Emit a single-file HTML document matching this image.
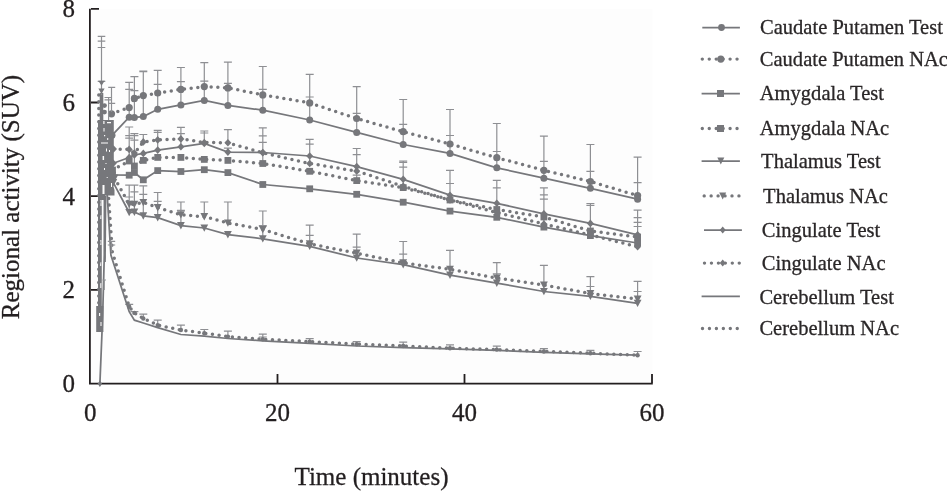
<!DOCTYPE html>
<html><head><meta charset="utf-8">
<style>
html,body{margin:0;padding:0;background:#fff;}
body{width:947px;height:492px;overflow:hidden;position:relative;}
svg{position:absolute;left:0;top:0;}
text{font-family:"Liberation Serif",serif;fill:#231f20;stroke:#231f20;stroke-width:0.3px;}
.lg{font-size:22px;fill:#2b2829;}
.sl{stroke:#76777b;stroke-width:1.75;fill:none;}
.dl{stroke:#76777b;stroke-width:3.5;stroke-dasharray:0 6.7;stroke-linecap:round;fill:none;}
.dlg{stroke:#76777b;stroke-width:3.4;stroke-dasharray:0 6.95;stroke-linecap:round;fill:none;}
.mk{fill:#76777b;stroke:none;}
</style></head>
<body>
<svg style="will-change:transform" width="947" height="492" viewBox="0 0 947 492">
<rect x="90" y="9" width="562.5" height="374.5" fill="#fdfdfd"/>
<!-- axes -->
<g stroke="#231f20" fill="none">
<path d="M89.9 8.8 V383.6 H652.8" stroke-width="1.8"/>
<path d="M91 8.8 H99 M91 102.5 H99 M91 196.2 H99 M91 289.9 H99" stroke-width="1.8"/>
<path d="M277.5 383 V374 M464.5 383 V374 M652 383 V374" stroke-width="1.8"/>
</g>
<g font-size="25" text-anchor="end">
<text x="75" y="17.2">8</text>
<text x="75" y="110.9">6</text>
<text x="75" y="204.6">4</text>
<text x="75" y="298.3">2</text>
<text x="75" y="392">0</text>
</g>
<g font-size="25" text-anchor="middle">
<text x="90.2" y="420.5">0</text>
<text x="277.5" y="420.5">20</text>
<text x="464.5" y="420.5">40</text>
<text x="652" y="420.5">60</text>
<text x="371.5" y="485">Time (minutes)</text>
<text transform="translate(18.8,197) rotate(-90)">Regional activity (SUV)</text>
</g>
<!-- SERIES -->
<path d="M129.2 107.6V82.3M125.2 82.3H133.2 M129.2 117.2V89.3M125.2 89.3H133.2 M129.2 149.4V127.0M125.2 127.0H133.2 M129.2 157.5V135.6M125.2 135.6H133.2 M129.2 161.0V138.2M125.2 138.2H133.2 M129.2 204.3V185.1M125.2 185.1H133.2 M129.2 212.5V197.0M125.2 197.0H133.2 M129.2 306.8V304.4M125.2 304.4H133.2 M134.4 98.4V76.6M130.4 76.6H138.4 M134.4 117.4V90.6M130.4 90.6H138.4 M134.4 153.1V133.6M130.4 133.6H138.4 M134.4 155.0V135.6M130.4 135.6H138.4 M134.4 166.0V140.2M130.4 140.2H138.4 M134.4 204.3V185.1M130.4 185.1H138.4 M134.4 212.2V191.9M130.4 191.9H138.4 M134.4 312.9V311.7M130.4 311.7H138.4 M143.3 95.6V71.1M139.3 71.1H147.3 M143.3 116.6V71.6M139.3 71.6H147.3 M143.3 141.9V134.5M139.3 134.5H147.3 M143.3 202.5V185.8M139.3 185.8H147.3 M143.3 215.9V194.4M139.3 194.4H147.3 M143.3 318.5V314.1M139.3 314.1H147.3 M157.7 93.0V70.3M153.7 70.3H161.7 M157.7 109.3V84.4M153.7 84.4H161.7 M157.7 139.9V130.3M153.7 130.3H161.7 M157.7 150.1V132.3M153.7 132.3H161.7 M157.7 207.6V192.5M153.7 192.5H161.7 M157.7 217.6V201.4M153.7 201.4H161.7 M157.7 325.1V320.2M153.7 320.2H161.7 M180.9 89.4V67.5M176.9 67.5H184.9 M180.9 104.9V81.7M176.9 81.7H184.9 M180.9 138.9V127.4M176.9 127.4H184.9 M180.9 146.8V133.6M176.9 133.6H184.9 M180.9 214.8V202.0M176.9 202.0H184.9 M180.9 225.6V210.3M176.9 210.3H184.9 M180.9 330.0V325.1M176.9 325.1H184.9 M204.3 86.6V62.7M200.3 62.7H208.3 M204.3 100.5V81.2M200.3 81.2H208.3 M204.3 142.5V131.0M200.3 131.0H208.3 M204.3 143.5V133.0M200.3 133.0H208.3 M204.3 216.7V202.0M200.3 202.0H208.3 M204.3 333.2V329.5M200.3 329.5H208.3 M227.9 87.9V62.2M223.9 62.2H231.9 M227.9 105.4V83.4M223.9 83.4H231.9 M227.9 142.8V129.6M223.9 129.6H231.9 M227.9 152.1V148.1M223.9 148.1H231.9 M227.9 223.0V202.0M223.9 202.0H231.9 M227.9 336.6V331.2M223.9 331.2H231.9 M262.8 94.9V66.5M258.8 66.5H266.8 M262.8 110.2V89.3M258.8 89.3H266.8 M262.8 152.5V127.8M258.8 127.8H266.8 M262.8 152.8V135.9M258.8 135.9H266.8 M262.8 163.5V142.4M258.8 142.4H266.8 M262.8 229.5V211.0M258.8 211.0H266.8 M262.8 238.8V225.6M258.8 225.6H266.8 M262.8 339.3V334.2M258.8 334.2H266.8 M262.8 340.8V337.0M258.8 337.0H266.8 M309.7 102.9V74.4M305.7 74.4H313.7 M309.7 120.0V97.0M305.7 97.0H313.7 M309.7 156.0V139.3M305.7 139.3H313.7 M309.7 163.5V144.2M305.7 144.2H313.7 M309.7 243.9V225.1M305.7 225.1H313.7 M309.7 246.3V235.4M305.7 235.4H313.7 M309.7 341.6V338.6M305.7 338.6H313.7 M356.7 118.5V86.6M352.7 86.6H360.7 M356.7 132.4V113.4M352.7 113.4H360.7 M356.7 166.6V148.5M352.7 148.5H360.7 M356.7 171.1V154.7M352.7 154.7H360.7 M356.7 180.6V175.2M352.7 175.2H360.7 M356.7 253.2V234.1M352.7 234.1H360.7 M356.7 258.0V247.1M352.7 247.1H360.7 M356.7 344.2V341.6M352.7 341.6H360.7 M403.2 131.7V99.5M399.2 99.5H407.2 M403.2 144.5V124.4M399.2 124.4H407.2 M403.2 179.3V161.2M399.2 161.2H407.2 M403.2 186.3V162.5M399.2 162.5H407.2 M403.2 187.6V167.2M399.2 167.2H407.2 M403.2 262.9V241.5M399.2 241.5H407.2 M403.2 264.6V254.1M399.2 254.1H407.2 M403.2 346.0V342.2M399.2 342.2H407.2 M403.2 347.6V345.4M399.2 345.4H407.2 M450.0 144.0V109.5M446.0 109.5H454.0 M450.0 153.4V135.5M446.0 135.5H454.0 M450.0 195.2V170.4M446.0 170.4H454.0 M450.0 200.0V183.5M446.0 183.5H454.0 M450.0 269.3V250.4M446.0 250.4H454.0 M450.0 348.2V344.8M446.0 344.8H454.0 M496.8 157.7V123.5M492.8 123.5H500.8 M496.8 167.8V151.5M492.8 151.5H500.8 M496.8 203.3V180.3M492.8 180.3H500.8 M496.8 209.5V187.9M492.8 187.9H500.8 M496.8 278.0V262.6M492.8 262.6H500.8 M496.8 283.1V273.8M492.8 273.8H500.8 M496.8 349.6V346.2M492.8 346.2H500.8 M543.9 170.3V136.1M539.9 136.1H547.9 M543.9 178.2V161.3M539.9 161.3H547.9 M543.9 213.8V187.9M539.9 187.9H547.9 M543.9 217.0V194.9M539.9 194.9H547.9 M543.9 224.0V199.1M539.9 199.1H547.9 M543.9 285.1V265.4M539.9 265.4H547.9 M543.9 351.5V348.7M539.9 348.7H547.9 M590.4 181.5V144.5M586.4 144.5H594.4 M590.4 188.3V171.4M586.4 171.4H594.4 M590.4 223.4V203.5M586.4 203.5H594.4 M590.4 231.0V205.4M586.4 205.4H594.4 M590.4 293.5V276.6M586.4 276.6H594.4 M590.4 296.3V286.5M586.4 286.5H594.4 M590.4 353.2V350.4M586.4 350.4H594.4 M637.6 195.6V157.1M633.6 157.1H641.6 M637.6 199.2V182.7M633.6 182.7H641.6 M637.6 234.8V210.2M633.6 210.2H641.6 M637.6 237.0V217.6M633.6 217.6H641.6 M637.6 243.0V222.4M633.6 222.4H641.6 M637.6 246.8V226.5M633.6 226.5H641.6 M637.6 299.1V281.4M633.6 281.4H641.6 M637.6 303.3V291.5M633.6 291.5H641.6 M637.6 355.2V351.5M633.6 351.5H641.6" stroke="#8e8f93" stroke-width="1.2" fill="none"/>
<path d="M112.0 135.3 L129.2 117.2 L134.4 117.4 L143.3 116.6 L157.7 109.3 L180.9 104.9 L204.3 100.5 L227.9 105.4 L262.8 110.2 L309.7 120.0 L356.7 132.4 L403.2 144.5 L450.0 153.4 L496.8 167.8 L543.9 178.2 L590.4 188.3 L637.6 199.2" class="sl"/>
<path d="M111.5 113.8 L129.2 107.6 L134.4 98.4 L143.3 95.6 L157.7 93.0 L180.9 89.4 L204.3 86.6 L227.9 87.9 L262.8 94.9 L309.7 102.9 L356.7 118.5 L403.2 131.7 L450.0 144.0 L496.8 157.7 L543.9 170.3 L590.4 181.5 L637.6 195.6" class="dl"/>
<path d="M112.5 175.0 L129.2 175.2 L134.4 172.5 L143.3 179.8 L157.7 170.6 L180.9 171.5 L204.3 169.7 L227.9 172.6 L262.8 184.5 L309.7 188.8 L356.7 194.3 L403.2 202.2 L450.0 211.1 L496.8 217.3 L543.9 227.1 L590.4 235.6 L637.6 243.0" class="sl"/>
<path d="M112.5 170.0 L129.2 161.0 L134.4 166.0 L143.3 160.4 L157.7 157.4 L180.9 157.4 L204.3 159.4 L227.9 160.4 L262.8 163.5 L309.7 171.3 L356.7 180.6 L403.2 187.6 L450.0 200.0 L496.8 209.5 L543.9 217.0 L590.4 231.0 L637.6 237.0" class="dl"/>
<path d="M113.3 182.7 L129.2 212.5 L134.4 212.2 L143.3 215.9 L157.7 217.6 L180.9 225.6 L204.3 228.0 L227.9 234.6 L262.8 238.8 L309.7 246.3 L356.7 258.0 L403.2 264.6 L450.0 275.2 L496.8 283.1 L543.9 291.5 L590.4 296.3 L637.6 303.3" class="sl"/>
<path d="M114.5 178.0 L129.2 204.3 L134.4 204.3 L143.3 202.5 L157.7 207.6 L180.9 214.8 L204.3 216.7 L227.9 223.0 L262.8 229.5 L309.7 243.9 L356.7 253.2 L403.2 262.9 L450.0 269.3 L496.8 278.0 L543.9 285.1 L590.4 293.5 L637.6 299.1" class="dl"/>
<path d="M113.3 163.2 L129.2 157.5 L134.4 155.0 L143.3 153.4 L157.7 150.1 L180.9 146.8 L204.3 143.5 L227.9 152.1 L262.8 152.5 L309.7 156.0 L356.7 166.6 L403.2 179.3 L450.0 195.2 L496.8 203.3 L543.9 213.8 L590.4 223.4 L637.6 234.8" class="sl"/>
<path d="M113.5 149.0 L129.2 149.4 L134.4 153.1 L143.3 141.9 L157.7 139.9 L180.9 138.9 L204.3 142.5 L227.9 142.8 L262.8 152.8 L309.7 163.5 L356.7 171.1 L403.2 186.3 L450.0 200.0 L496.8 212.5 L543.9 224.0 L590.4 235.0 L637.6 246.8" class="dl"/>
<path d="M99.9 383.8 L102.7 315.0 L104.3 255.0 L104.5 165.0 L106.5 165.0 L107.2 195.0 L110.9 255.0 L129.2 311.7 L134.4 320.2 L143.3 323.0 L157.7 327.6 L180.9 334.5 L204.3 336.1 L227.9 338.5 L262.8 340.8 L309.7 343.3 L356.7 346.0 L403.2 347.6 L450.0 348.9 L496.8 350.4 L543.9 352.4 L590.4 353.8 L637.6 355.2" class="sl"/>
<path d="M106.0 165.0 L108.4 195.0 L112.3 252.0 L129.2 306.8 L134.4 312.9 L143.3 318.5 L157.7 325.1 L180.9 330.0 L204.3 333.2 L227.9 336.6 L262.8 339.3 L309.7 341.6 L356.7 344.2 L403.2 346.0 L450.0 348.2 L496.8 349.6 L543.9 351.5 L590.4 353.2 L637.6 355.2" class="dl"/>
<g fill="#76777b"><circle cx="112.0" cy="135.3" r="3.5"/><circle cx="129.2" cy="117.2" r="3.5"/><circle cx="134.4" cy="117.4" r="3.5"/><circle cx="143.3" cy="116.6" r="3.5"/><circle cx="157.7" cy="109.3" r="3.5"/><circle cx="180.9" cy="104.9" r="3.5"/><circle cx="204.3" cy="100.5" r="3.5"/><circle cx="227.9" cy="105.4" r="3.5"/><circle cx="262.8" cy="110.2" r="3.5"/><circle cx="309.7" cy="120.0" r="3.5"/><circle cx="356.7" cy="132.4" r="3.5"/><circle cx="403.2" cy="144.5" r="3.5"/><circle cx="450.0" cy="153.4" r="3.5"/><circle cx="496.8" cy="167.8" r="3.5"/><circle cx="543.9" cy="178.2" r="3.5"/><circle cx="590.4" cy="188.3" r="3.5"/><circle cx="637.6" cy="199.2" r="3.5"/></g>
<g fill="#76777b"><circle cx="111.5" cy="113.8" r="3.6"/><circle cx="129.2" cy="107.6" r="3.6"/><circle cx="134.4" cy="98.4" r="3.6"/><circle cx="143.3" cy="95.6" r="3.6"/><circle cx="157.7" cy="93.0" r="3.6"/><circle cx="180.9" cy="89.4" r="3.6"/><circle cx="204.3" cy="86.6" r="3.6"/><circle cx="227.9" cy="87.9" r="3.6"/><circle cx="262.8" cy="94.9" r="3.6"/><circle cx="309.7" cy="102.9" r="3.6"/><circle cx="356.7" cy="118.5" r="3.6"/><circle cx="403.2" cy="131.7" r="3.6"/><circle cx="450.0" cy="144.0" r="3.6"/><circle cx="496.8" cy="157.7" r="3.6"/><circle cx="543.9" cy="170.3" r="3.6"/><circle cx="590.4" cy="181.5" r="3.6"/><circle cx="637.6" cy="195.6" r="3.6"/></g>
<g fill="#76777b"><rect x="109.1" y="171.6" width="6.8" height="6.8"/><rect x="125.8" y="171.8" width="6.8" height="6.8"/><rect x="131.0" y="169.1" width="6.8" height="6.8"/><rect x="139.9" y="176.4" width="6.8" height="6.8"/><rect x="154.3" y="167.2" width="6.8" height="6.8"/><rect x="177.5" y="168.1" width="6.8" height="6.8"/><rect x="200.9" y="166.3" width="6.8" height="6.8"/><rect x="224.5" y="169.2" width="6.8" height="6.8"/><rect x="259.4" y="181.1" width="6.8" height="6.8"/><rect x="306.3" y="185.4" width="6.8" height="6.8"/><rect x="353.3" y="190.9" width="6.8" height="6.8"/><rect x="399.8" y="198.8" width="6.8" height="6.8"/><rect x="446.6" y="207.7" width="6.8" height="6.8"/><rect x="493.4" y="213.9" width="6.8" height="6.8"/><rect x="540.5" y="223.7" width="6.8" height="6.8"/><rect x="587.0" y="232.2" width="6.8" height="6.8"/><rect x="634.2" y="239.6" width="6.8" height="6.8"/></g>
<g fill="#76777b"><rect x="109.1" y="166.6" width="6.8" height="6.8"/><rect x="125.8" y="157.6" width="6.8" height="6.8"/><rect x="131.0" y="162.6" width="6.8" height="6.8"/><rect x="139.9" y="157.0" width="6.8" height="6.8"/><rect x="154.3" y="154.0" width="6.8" height="6.8"/><rect x="177.5" y="154.0" width="6.8" height="6.8"/><rect x="200.9" y="156.0" width="6.8" height="6.8"/><rect x="224.5" y="157.0" width="6.8" height="6.8"/><rect x="259.4" y="160.1" width="6.8" height="6.8"/><rect x="306.3" y="167.9" width="6.8" height="6.8"/><rect x="353.3" y="177.2" width="6.8" height="6.8"/><rect x="399.8" y="184.2" width="6.8" height="6.8"/><rect x="446.6" y="196.6" width="6.8" height="6.8"/><rect x="493.4" y="206.1" width="6.8" height="6.8"/><rect x="540.5" y="213.6" width="6.8" height="6.8"/><rect x="587.0" y="227.6" width="6.8" height="6.8"/><rect x="634.2" y="233.6" width="6.8" height="6.8"/></g>
<g fill="#76777b"><path d="M109.4 179.1H117.2L113.3 186.5Z"/><path d="M125.3 208.9H133.1L129.2 216.3Z"/><path d="M130.5 208.6H138.3L134.4 216.0Z"/><path d="M139.4 212.3H147.2L143.3 219.7Z"/><path d="M153.8 214.0H161.6L157.7 221.4Z"/><path d="M177.0 222.0H184.8L180.9 229.4Z"/><path d="M200.4 224.4H208.2L204.3 231.8Z"/><path d="M224.0 231.0H231.8L227.9 238.4Z"/><path d="M258.9 235.2H266.7L262.8 242.6Z"/><path d="M305.8 242.7H313.6L309.7 250.1Z"/><path d="M352.8 254.4H360.6L356.7 261.8Z"/><path d="M399.3 261.0H407.1L403.2 268.4Z"/><path d="M446.1 271.6H453.9L450.0 279.0Z"/><path d="M492.9 279.5H500.7L496.8 286.9Z"/><path d="M540.0 287.9H547.8L543.9 295.3Z"/><path d="M586.5 292.7H594.3L590.4 300.1Z"/><path d="M633.7 299.7H641.5L637.6 307.1Z"/></g>
<g fill="#76777b"><path d="M110.6 174.4H118.4L114.5 181.8Z"/><path d="M125.3 200.7H133.1L129.2 208.1Z"/><path d="M130.5 200.7H138.3L134.4 208.1Z"/><path d="M139.4 198.9H147.2L143.3 206.3Z"/><path d="M153.8 204.0H161.6L157.7 211.4Z"/><path d="M177.0 211.2H184.8L180.9 218.6Z"/><path d="M200.4 213.1H208.2L204.3 220.5Z"/><path d="M224.0 219.4H231.8L227.9 226.8Z"/><path d="M258.9 225.9H266.7L262.8 233.3Z"/><path d="M305.8 240.3H313.6L309.7 247.7Z"/><path d="M352.8 249.6H360.6L356.7 257.0Z"/><path d="M399.3 259.3H407.1L403.2 266.7Z"/><path d="M446.1 265.7H453.9L450.0 273.1Z"/><path d="M492.9 274.4H500.7L496.8 281.8Z"/><path d="M540.0 281.5H547.8L543.9 288.9Z"/><path d="M586.5 289.9H594.3L590.4 297.3Z"/><path d="M633.7 295.5H641.5L637.6 302.9Z"/></g>
<g fill="#76777b"><path d="M113.3 159.4L116.8 163.2L113.3 167.0L109.8 163.2Z"/><path d="M129.2 153.7L132.7 157.5L129.2 161.3L125.7 157.5Z"/><path d="M134.4 151.2L137.9 155.0L134.4 158.8L130.9 155.0Z"/><path d="M143.3 149.6L146.8 153.4L143.3 157.2L139.8 153.4Z"/><path d="M157.7 146.3L161.2 150.1L157.7 153.9L154.2 150.1Z"/><path d="M180.9 143.0L184.4 146.8L180.9 150.6L177.4 146.8Z"/><path d="M204.3 139.7L207.8 143.5L204.3 147.3L200.8 143.5Z"/><path d="M227.9 148.3L231.4 152.1L227.9 155.9L224.4 152.1Z"/><path d="M262.8 148.7L266.3 152.5L262.8 156.3L259.3 152.5Z"/><path d="M309.7 152.2L313.2 156.0L309.7 159.8L306.2 156.0Z"/><path d="M356.7 162.8L360.2 166.6L356.7 170.4L353.2 166.6Z"/><path d="M403.2 175.5L406.7 179.3L403.2 183.1L399.7 179.3Z"/><path d="M450.0 191.4L453.5 195.2L450.0 199.0L446.5 195.2Z"/><path d="M496.8 199.5L500.3 203.3L496.8 207.1L493.3 203.3Z"/><path d="M543.9 210.0L547.4 213.8L543.9 217.6L540.4 213.8Z"/><path d="M590.4 219.6L593.9 223.4L590.4 227.2L586.9 223.4Z"/><path d="M637.6 231.0L641.1 234.8L637.6 238.6L634.1 234.8Z"/></g>
<g fill="#76777b"><path d="M113.5 145.2L117.0 149.0L113.5 152.8L110.0 149.0Z"/><path d="M129.2 145.6L132.7 149.4L129.2 153.2L125.7 149.4Z"/><path d="M134.4 149.3L137.9 153.1L134.4 156.9L130.9 153.1Z"/><path d="M143.3 138.1L146.8 141.9L143.3 145.7L139.8 141.9Z"/><path d="M157.7 136.1L161.2 139.9L157.7 143.7L154.2 139.9Z"/><path d="M180.9 135.1L184.4 138.9L180.9 142.7L177.4 138.9Z"/><path d="M204.3 138.7L207.8 142.5L204.3 146.3L200.8 142.5Z"/><path d="M227.9 139.0L231.4 142.8L227.9 146.6L224.4 142.8Z"/><path d="M262.8 149.0L266.3 152.8L262.8 156.6L259.3 152.8Z"/><path d="M309.7 159.7L313.2 163.5L309.7 167.3L306.2 163.5Z"/><path d="M356.7 167.3L360.2 171.1L356.7 174.9L353.2 171.1Z"/><path d="M403.2 182.5L406.7 186.3L403.2 190.1L399.7 186.3Z"/><path d="M450.0 196.2L453.5 200.0L450.0 203.8L446.5 200.0Z"/><path d="M496.8 208.7L500.3 212.5L496.8 216.3L493.3 212.5Z"/><path d="M543.9 220.2L547.4 224.0L543.9 227.8L540.4 224.0Z"/><path d="M590.4 231.2L593.9 235.0L590.4 238.8L586.9 235.0Z"/><path d="M637.6 243.0L641.1 246.8L637.6 250.6L634.1 246.8Z"/></g>
<g fill="#76777b"><circle cx="129.2" cy="306.8" r="2.2"/><circle cx="134.4" cy="312.9" r="2.2"/><circle cx="143.3" cy="318.5" r="2.2"/><circle cx="157.7" cy="325.1" r="2.2"/><circle cx="180.9" cy="330.0" r="2.2"/><circle cx="204.3" cy="333.2" r="2.2"/><circle cx="227.9" cy="336.6" r="2.2"/><circle cx="262.8" cy="339.3" r="2.2"/><circle cx="309.7" cy="341.6" r="2.2"/><circle cx="356.7" cy="344.2" r="2.2"/><circle cx="403.2" cy="346.0" r="2.2"/><circle cx="450.0" cy="348.2" r="2.2"/><circle cx="496.8" cy="349.6" r="2.2"/><circle cx="543.9" cy="351.5" r="2.2"/><circle cx="590.4" cy="353.2" r="2.2"/><circle cx="637.6" cy="355.2" r="2.2"/></g>
<g fill="#76777b"><path d="M99.7 93 H103.3 V200 H101.8 V306 H103.4 V332 H96.2 V306 H98.0 V120 H99.7 Z"/><path d="M98 120 H113.8 V176 L112.5 183 L114.5 190 V195.5 H104.5 V200 H98 Z"/><circle cx="104.5" cy="105.6" r="2.4"/><circle cx="104.5" cy="112.1" r="2.4"/></g>
<path d="M102.5 185 h2 v9 h-2z M103.3 121 h1.2 v3 h-1.2z M107 122 h4 v1.2 h-4z M103.5 128 h1 v3.5 h-1z M104 135 h1.2 v1.2 h-1.2z M107.2 138 h1 v2 h-1z M101 142.5 h7 v1 h-7z M106 148.5 h1 v3 h-1z M109 150 h1 v2 h-1z M102.6 156 h1.5 v4 h-1.5z M105.5 163 h1 v1 h-1z M104 168 h1 v2 h-1z M106.7 177 h1 v1 h-1z M111 183 h1 v4 h-1z M100.5 200 h1 v6 h-1z M100.3 215 h1 v4 h-1z M100.4 240 h1 v5 h-1z M100.2 262 h1 v4 h-1z M100.3 283 h1 v5 h-1z M99 313 h1.2 v3 h-1.2z M100.5 322 h1 v4 h-1z" fill="#fdfdfd"/>
<path d="M98.8 95 V306" class="dl"/><path d="M105.6 196 L105 262" class="sl"/>
<path d="M101.5 95V36.3 M97.7 36.3H105.3 M97.7 41.1H105.3 M97.7 47.5H105.3 M97.7 81.4H105.3 M111.5 112V87.3 M108.2 87.3H115.2 M104.5 97.5H111.7 M104.5 99.9H111.7 M108.6 103.3H115.2 M108.6 120V97.5" stroke="#8e8f93" stroke-width="1.2" fill="none"/>
<g fill="#76777b"><path d="M98.3 80.8H104.7L101.5 85.8Z M98.4 88.6H104.6L101.5 94Z"/><path d="M99.9 380.5L102.1 383.7L99.9 386.9L97.7 383.7Z"/></g>
<path d="M111.5 252V241.3 M107.8 241.3H115.2 M107.8 245H115.2 M104.2 290V280 M102.6 280H106" stroke="#8e8f93" stroke-width="1.2" fill="none"/>
<!-- LEGEND -->
<g>
<path d="M702.3 27.5 H739.9" class="sl"/>
<circle cx="721.5" cy="27.5" r="3.4" class="mk"/>
<text class="lg" transform="translate(760.0,34.3) scale(0.934,1)">Caudate Putamen Test</text>
<path d="M702.3 59.1 H737.7" class="dlg"/>
<circle cx="720.8" cy="59.1" r="3.6" class="mk"/>
<text class="lg" transform="translate(759.8,65.8) scale(0.934,1)">Caudate Putamen NAc</text>
<path d="M701.6 93.5 H739.9" class="sl"/>
<rect x="717.0" y="90.0" width="7" height="7" class="mk"/>
<text class="lg" transform="translate(759.8,100.4) scale(0.934,1)">Amygdala Test</text>
<path d="M702.3 128.5 H737.7" class="dlg"/>
<rect x="717.0" y="125.0" width="7" height="7" class="mk"/>
<text class="lg" transform="translate(759.8,135.1) scale(0.934,1)">Amygdala NAc</text>
<path d="M701.6 161.1 H739.9" class="sl"/>
<path d="M717.3 157.6 H724.3 L720.8 164.6Z" class="mk"/>
<text class="lg" transform="translate(761.1,168.1) scale(0.934,1)">Thalamus Test</text>
<path d="M704.2 195.9 H740.0" class="dlg"/>
<path d="M719.2 192.4 H726.2 L722.7 199.4Z" class="mk"/>
<text class="lg" transform="translate(763.1,203.1) scale(0.934,1)">Thalamus NAc</text>
<path d="M704.0 230.1 H741.9" class="sl"/>
<path d="M722.7 226.6 L725.7 230.1 L722.7 233.6 L719.7 230.1Z" class="mk"/>
<text class="lg" transform="translate(761.8,237.0) scale(0.934,1)">Cingulate Test</text>
<path d="M704.5 263.1 H740.0" class="dlg"/>
<path d="M722.7 259.6 L725.7 263.1 L722.7 266.6 L719.7 263.1Z" class="mk"/>
<text class="lg" transform="translate(761.8,269.8) scale(0.934,1)">Cingulate NAc</text>
<path d="M701.6 296.4 H739.9" class="sl"/>
<text class="lg" transform="translate(759.4,303.5) scale(0.934,1)">Cerebellum Test</text>
<path d="M702.5 328.5 H737.7" class="dlg"/>
<text class="lg" transform="translate(759.4,335.2) scale(0.934,1)">Cerebellum NAc</text>
</g>
</svg>
</body></html>
